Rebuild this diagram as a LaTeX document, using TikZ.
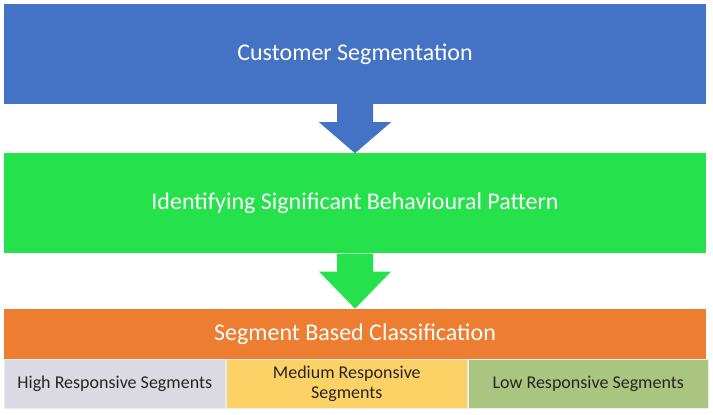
\documentclass[tikz,border=0pt]{standalone}
\usepackage{fontspec}
\setmainfont{Carlito}
\usetikzlibrary{calc,positioning}
\definecolor{segblue}{HTML}{4472C4}
\definecolor{seggreen}{HTML}{25E24C}
\definecolor{segorange}{HTML}{ED7D31}
\definecolor{cellgrey}{HTML}{DBDAE2}
\definecolor{cellyellow}{HTML}{FCD267}
\definecolor{cellgreen}{HTML}{A9C57F}

\begin{document}
\begin{tikzpicture}[x=1pt,y=1pt,
    band/.style={minimum width=702pt,minimum height=100pt,inner sep=0pt,
      text=white,font=\fontsize{24}{28}\selectfont},
    cell/.style={draw=white!92!black,line width=1pt,minimum height=49pt,
      inner sep=0pt,align=center,text=black!85,font=\fontsize{18}{20}\selectfont}]
 \useasboundingbox (0,0) rectangle (713,-415);
 \node[band,fill=segblue] (CS) at (355,-54) {Customer Segmentation};
 \node[band,fill=seggreen,below=49pt of CS] (ISB) {Identifying Significant Behavioural Pattern};
 \node[band,fill=segorange,minimum height=50pt,below=55pt of ISB] (SBC) {Segment Based Classification};
 \node[cell,fill=cellgrey,minimum width=221pt,below right=0pt and 0pt of SBC.south west] (HRS)
  {High Responsive Segments};
 \node[cell,fill=cellyellow,minimum width=241pt,right=0pt of HRS] (MRS)
  {Medium Responsive\\Segments};
 \node[cell,fill=cellgreen,minimum width=240pt,right=0pt of MRS] (LRS)
  {Low Responsive Segments};
 \foreach \A/\B/\C in {CS/ISB/segblue,ISB/SBC/seggreen}
  {\fill[\C] ($(\A.south)+(-18,0)$) -- ($(\A.south)+(18,0)$) -- ($(\A.south)+(18,-18)$)
    -- ($(\A.south)+(36,-18)$) -- (\B.north) -- ($(\A.south)+(-36,-18)$)
    -- ($(\A.south)+(-18,-18)$) -- cycle;}
\end{tikzpicture}
\end{document}
